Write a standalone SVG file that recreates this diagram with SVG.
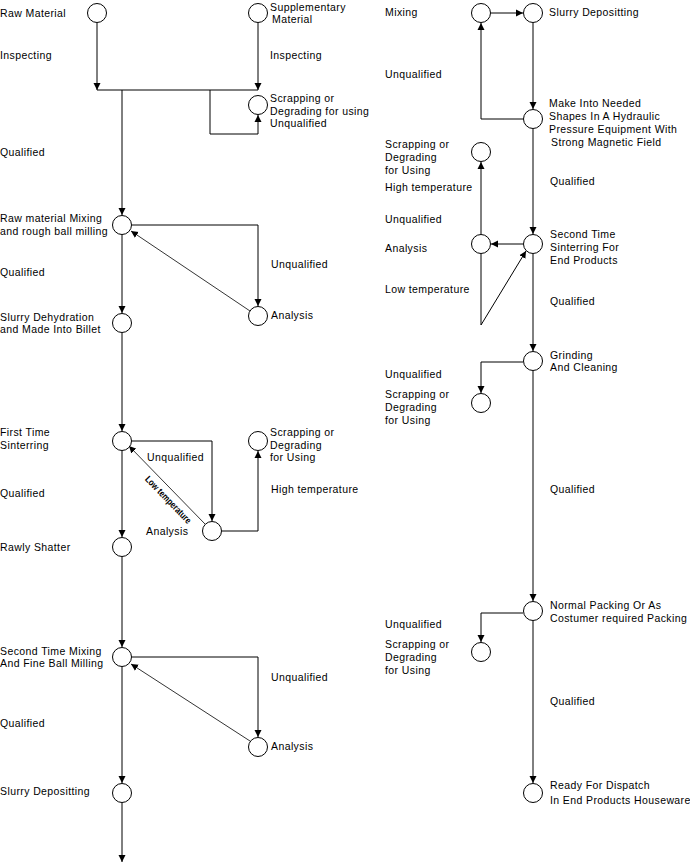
<svg xmlns="http://www.w3.org/2000/svg" width="690" height="863" viewBox="0 0 690 863">
<defs>
<marker id="ah" markerWidth="8" markerHeight="8" refX="7" refY="4" orient="auto" markerUnits="userSpaceOnUse">
<path d="M0,0.5 L7,4 L0,7.5 z" fill="#000"/>
</marker>
<style>
.n circle{fill:#fff;stroke:#000;stroke-width:1}
text{font-family:"Liberation Sans",Arial,sans-serif;font-size:10.5px;letter-spacing:0.4px;fill:#000}
.c path{fill:none;stroke:#000;stroke-width:1;marker-end:url(#ah)}
.c path.d{stroke-width:0.8}
.c path.p{marker-end:none}
.rot{font-size:9.5px;font-weight:bold;letter-spacing:0}
</style>
</defs>
<rect width="690" height="863" fill="#fff"/>
<g id="connectors" class="c">
<path d="M97,23 L97,90"/>
<path d="M258,23 L258,90"/>
<path class="p" d="M97,90 L258,90"/>
<path d="M210,90 L210,134 L258,134 L258,115"/>
<path d="M122,90 L122,215"/>
<path d="M132,225 L258,225 L258,306"/>
<path class="d" d="M250,311 L131,231"/>
<path d="M122,235 L122,313"/>
<path d="M122,333 L122,431"/>
<path d="M132,441 L212,441 L212,521"/>
<path class="d" d="M205,524 L129,446"/>
<path d="M222,531 L258,531 L258,451"/>
<path d="M122,451 L122,537"/>
<path d="M122,557 L122,647"/>
<path d="M132,657 L258,657 L258,737"/>
<path class="d" d="M250,741 L131,664"/>
<path d="M122,667 L122,783"/>
<path d="M122,803 L122,862"/>
<path d="M491,13 L523,13"/>
<path d="M533,23 L533,109"/>
<path d="M523,119 L481,119 L481,23"/>
<path d="M533,129 L533,234"/>
<path d="M481,234 L481,162"/>
<path d="M523,244 L491,244"/>
<path d="M481,254 L481,325 L526,251"/>
<path d="M533,254 L533,351"/>
<path d="M523,362 L481,362 L481,393"/>
<path d="M533,371 L533,601"/>
<path d="M523,613 L481,613 L481,642"/>
<path d="M533,621 L533,783"/>
</g>
<g id="raw-material" class="n"><circle cx="97" cy="13" r="9.5"/><text x="0" y="17">Raw Material</text></g>
<g id="supplementary" class="n"><circle cx="258" cy="13" r="9.5"/><text x="270" y="11">Supplementary</text><text x="272" y="23">Material</text></g>
<g id="scrap-1" class="n"><circle cx="258" cy="105" r="9.5"/><text x="270" y="102">Scrapping or</text><text x="270" y="115">Degrading for using</text><text x="270" y="127">Unqualified</text></g>
<g id="mixing-rough" class="n"><circle cx="122" cy="225" r="9.5"/><text x="0" y="222">Raw material Mixing</text><text x="0" y="235">and rough ball milling</text></g>
<g id="analysis-1" class="n"><circle cx="258" cy="316" r="9.5"/><text x="271" y="319">Analysis</text></g>
<g id="dehydration" class="n"><circle cx="122" cy="323" r="9.5"/><text x="0" y="321">Slurry Dehydration</text><text x="0" y="333">and Made Into Billet</text></g>
<g id="first-sinter" class="n"><circle cx="122" cy="441" r="9.5"/><text x="0" y="436">First Time</text><text x="0" y="449">Sinterring</text></g>
<g id="scrap-2" class="n"><circle cx="258" cy="441" r="9.5"/><text x="270" y="436">Scrapping or</text><text x="270" y="449">Degrading</text><text x="270" y="461">for Using</text></g>
<g id="analysis-2" class="n"><circle cx="212" cy="531" r="9.5"/><text x="146" y="535">Analysis</text></g>
<g id="rawly-shatter" class="n"><circle cx="122" cy="547" r="9.5"/><text x="0" y="551">Rawly Shatter</text></g>
<g id="mixing-fine" class="n"><circle cx="122" cy="657" r="9.5"/><text x="0" y="655">Second Time Mixing</text><text x="0" y="667">And Fine Ball Milling</text></g>
<g id="analysis-3" class="n"><circle cx="258" cy="747" r="9.5"/><text x="271" y="750">Analysis</text></g>
<g id="slurry-dep-1" class="n"><circle cx="122" cy="793" r="9.5"/><text x="0" y="795">Slurry Depositting</text></g>
<g id="mixing-r" class="n"><circle cx="481" cy="13" r="9.5"/><text x="385" y="16">Mixing</text></g>
<g id="slurry-dep-2" class="n"><circle cx="533" cy="13" r="9.5"/><text x="549" y="16">Slurry Depositting</text></g>
<g id="shaping" class="n"><circle cx="533" cy="119" r="9.5"/><text x="549" y="107">Make Into Needed</text><text x="549" y="120">Shapes In A Hydraulic</text><text x="549" y="133">Pressure Equipment With</text><text x="551" y="146">Strong Magnetic Field</text></g>
<g id="scrap-3" class="n"><circle cx="481" cy="152" r="9.5"/><text x="385" y="148">Scrapping or</text><text x="385" y="161">Degrading</text><text x="385" y="174">for Using</text></g>
<g id="analysis-4" class="n"><circle cx="481" cy="244" r="9.5"/><text x="385" y="252">Analysis</text></g>
<g id="second-sinter" class="n"><circle cx="533" cy="244" r="9.5"/><text x="550" y="238">Second Time</text><text x="550" y="251">Sinterring For</text><text x="550" y="264">End Products</text></g>
<g id="grinding" class="n"><circle cx="533" cy="361" r="9.5"/><text x="550" y="359">Grinding</text><text x="550" y="371">And Cleaning</text></g>
<g id="scrap-4" class="n"><circle cx="481" cy="403" r="9.5"/><text x="385" y="398">Scrapping or</text><text x="385" y="411">Degrading</text><text x="385" y="424">for Using</text></g>
<g id="packing" class="n"><circle cx="533" cy="611" r="9.5"/><text x="550" y="609">Normal Packing Or As</text><text x="550" y="622">Costumer required Packing</text></g>
<g id="scrap-5" class="n"><circle cx="481" cy="652" r="9.5"/><text x="385" y="648">Scrapping or</text><text x="385" y="661">Degrading</text><text x="385" y="674">for Using</text></g>
<g id="dispatch" class="n"><circle cx="533" cy="793" r="9.5"/><text x="550" y="789">Ready For Dispatch</text><text x="550" y="804">In End Products Houseware</text></g>
<g id="labels">
<text x="0" y="59">Inspecting</text>
<text x="270" y="59">Inspecting</text>
<text x="0" y="156">Qualified</text>
<text x="0" y="276">Qualified</text>
<text x="271" y="268">Unqualified</text>
<text x="147" y="461">Unqualified</text>
<text x="271" y="493">High temperature</text>
<text x="0" y="497">Qualified</text>
<text class="rot" transform="translate(166,502) rotate(46)" x="0" y="0" text-anchor="middle" textLength="62" lengthAdjust="spacingAndGlyphs">Low temperature</text>
<text x="271" y="681">Unqualified</text>
<text x="0" y="727">Qualified</text>
<text x="385" y="78">Unqualified</text>
<text x="385" y="191">High temperature</text>
<text x="550" y="185">Qualified</text>
<text x="385" y="223">Unqualified</text>
<text x="385" y="293">Low temperature</text>
<text x="550" y="305">Qualified</text>
<text x="385" y="378">Unqualified</text>
<text x="550" y="493">Qualified</text>
<text x="385" y="628">Unqualified</text>
<text x="550" y="705">Qualified</text>
</g>
</svg>
